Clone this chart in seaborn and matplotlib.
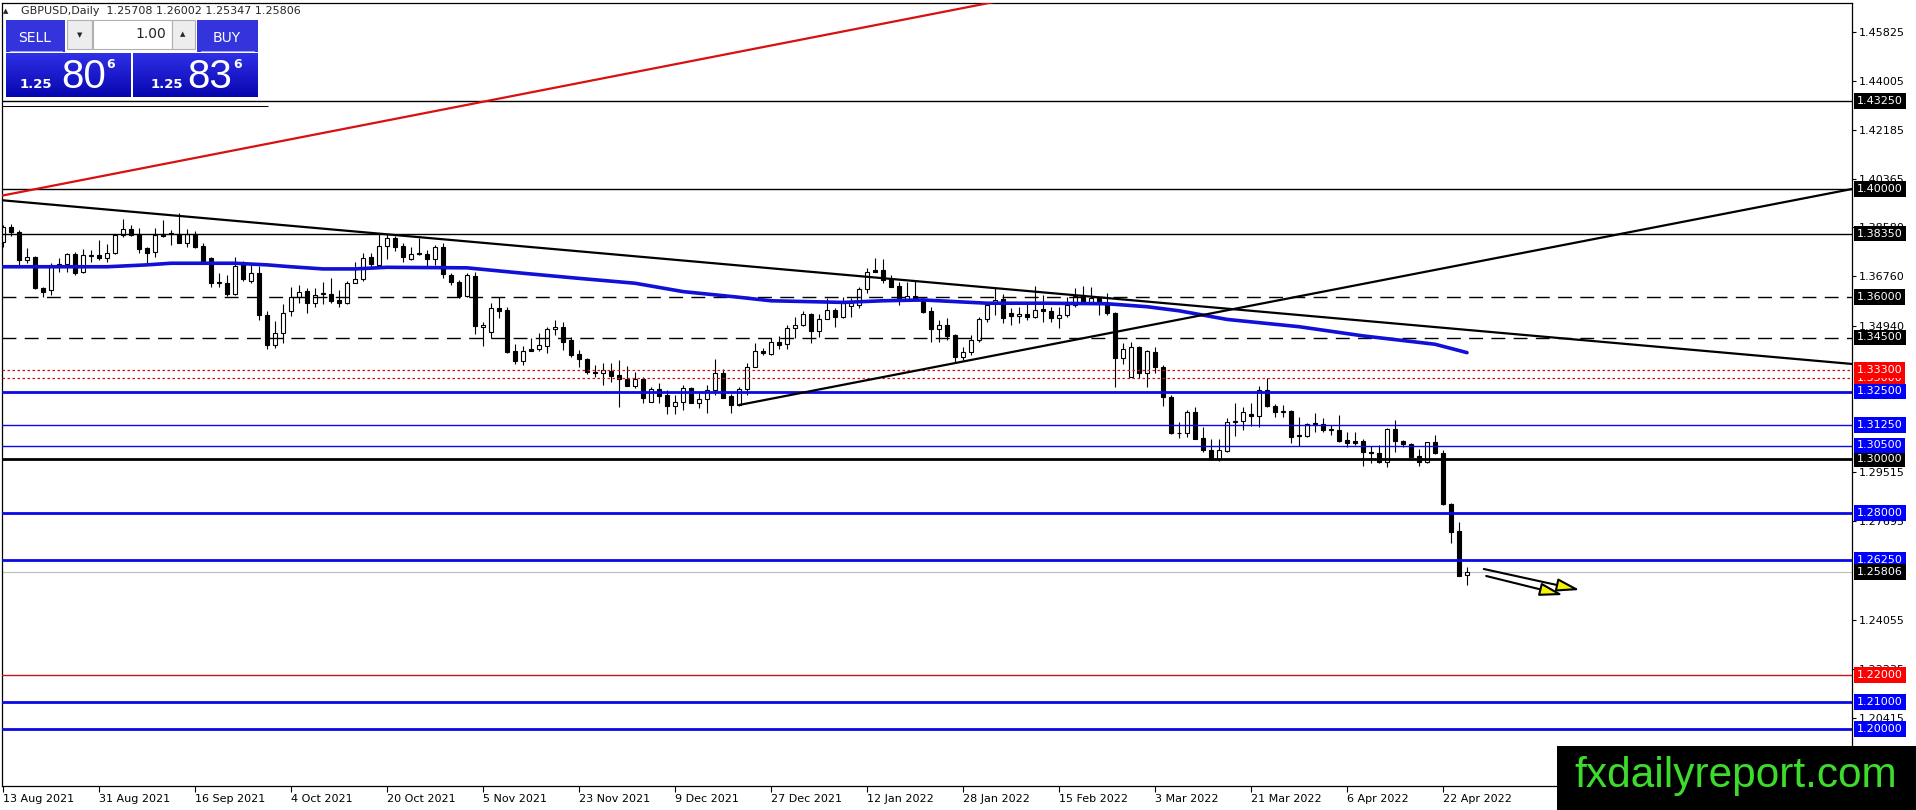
import matplotlib
matplotlib.use('Agg')
import matplotlib.pyplot as plt
from matplotlib.patches import Rectangle
from matplotlib.colors import LinearSegmentedColormap
import numpy as np
import seaborn as sns

# ---- data ----
opens = [1.3805, 1.3860, 1.3842, 1.3737, 1.3747, 1.3635, 1.3627, 1.3712, 1.3722, 1.3758,
         1.3691, 1.3752, 1.3755, 1.3746, 1.3762, 1.3828, 1.3852, 1.3835, 1.3783, 1.3766,
         1.3829, 1.3835, 1.3832, 1.3801, 1.3832, 1.3789, 1.3743, 1.3653, 1.3653, 1.3611,
         1.3721, 1.3660, 1.3690, 1.3533, 1.3422, 1.3468, 1.3549, 1.3599, 1.3622, 1.3577,
         1.3610, 1.3610, 1.3588, 1.3579, 1.3653, 1.3665, 1.3747, 1.3720, 1.3788, 1.3817,
         1.3789, 1.3740, 1.3760, 1.3759, 1.3740, 1.3784, 1.3681, 1.3657, 1.3604, 1.3677,
         1.3490, 1.3472, 1.3558, 1.3552, 1.3400, 1.3364, 1.3406, 1.3406, 1.3420, 1.3480,
         1.3488, 1.3441, 1.3388, 1.3369, 1.3323, 1.3317, 1.3327, 1.3311, 1.3295, 1.3272,
         1.3295, 1.3212, 1.3258, 1.3237, 1.3196, 1.3212, 1.3262, 1.3209, 1.3223, 1.3256,
         1.3317, 1.3233, 1.3199, 1.3258, 1.3342, 1.3401, 1.3388, 1.3435, 1.3425, 1.3484,
         1.3495, 1.3536, 1.3474, 1.3520, 1.3552, 1.3525, 1.3567, 1.3570, 1.3628, 1.3699,
         1.3700, 1.3667, 1.3641, 1.3591, 1.3604, 1.3591, 1.3549, 1.3480, 1.3496, 1.3459,
         1.3377, 1.3395, 1.3441, 1.3519, 1.3577, 1.3591, 1.3542, 1.3530, 1.3537, 1.3527,
         1.3555, 1.3549, 1.3521, 1.3533, 1.3570, 1.3607, 1.3583, 1.3595, 1.3579, 1.3540,
         1.3373, 1.3305, 1.3414, 1.3317, 1.3398, 1.3340, 1.3231, 1.3095, 1.3095, 1.3173,
         1.3077, 1.3033, 1.3000, 1.3031, 1.3138, 1.3141, 1.3165, 1.3159, 1.3256, 1.3196,
         1.3175, 1.3178, 1.3089, 1.3086, 1.3132, 1.3130, 1.3107, 1.3107, 1.3070, 1.3067,
         1.3067, 1.3027, 1.3021, 1.2990, 1.3110, 1.3067, 1.3054, 1.3011, 1.2990, 1.3062,
         1.3023, 1.2832, 1.2733, 1.25708]
highs = [1.3866, 1.3872, 1.3848, 1.3780, 1.3752, 1.3638, 1.3727, 1.3743, 1.3764, 1.3768,
         1.3776, 1.3774, 1.3811, 1.3795, 1.3832, 1.3888, 1.3867, 1.3854, 1.3787, 1.3857,
         1.3885, 1.3848, 1.3910, 1.3851, 1.3846, 1.3799, 1.3747, 1.3688, 1.3681, 1.3749,
         1.3735, 1.3725, 1.3715, 1.3549, 1.3512, 1.3574, 1.3636, 1.3644, 1.3632, 1.3632,
         1.3657, 1.3669, 1.3625, 1.3661, 1.3731, 1.3762, 1.3764, 1.3832, 1.3832, 1.3826,
         1.3799, 1.3786, 1.3817, 1.3775, 1.3793, 1.3799, 1.3690, 1.3663, 1.3690, 1.3693,
         1.3509, 1.3577, 1.3601, 1.3562, 1.3426, 1.3419, 1.3447, 1.3468, 1.3490, 1.3515,
         1.3509, 1.3451, 1.3404, 1.3373, 1.3348, 1.3357, 1.3357, 1.3367, 1.3344, 1.3323,
         1.3305, 1.3268, 1.3283, 1.3256, 1.3237, 1.3274, 1.3268, 1.3243, 1.3274, 1.3369,
         1.3332, 1.3241, 1.3265, 1.3357, 1.3431, 1.3410, 1.3447, 1.3456, 1.3496, 1.3525,
         1.3549, 1.3540, 1.3536, 1.3595, 1.3558, 1.3599, 1.3595, 1.3638, 1.3706, 1.3743,
         1.3740, 1.3681, 1.3657, 1.3657, 1.3660, 1.3595, 1.3564, 1.3515, 1.3521, 1.3463,
         1.3414, 1.3459, 1.3525, 1.3579, 1.3632, 1.3611, 1.3558, 1.3564, 1.3577, 1.3641,
         1.3607, 1.3564, 1.3564, 1.3601, 1.3632, 1.3641, 1.3636, 1.3601, 1.3616, 1.3546,
         1.3428, 1.3435, 1.3419, 1.3404, 1.3414, 1.3348, 1.3236, 1.3138, 1.3181, 1.3191,
         1.3120, 1.3073, 1.3073, 1.3153, 1.3206, 1.3194, 1.3206, 1.3270, 1.3299, 1.3204,
         1.3200, 1.3181, 1.3157, 1.3135, 1.3172, 1.3151, 1.3126, 1.3163, 1.3101, 1.3101,
         1.3073, 1.3048, 1.3052, 1.3114, 1.3144, 1.3070, 1.3060, 1.3036, 1.3064, 1.3089,
         1.3033, 1.2836, 1.2768, 1.26002]
lows = [1.3786, 1.3825, 1.3719, 1.3725, 1.3628, 1.3600, 1.3607, 1.3694, 1.3694, 1.3681,
        1.3690, 1.3731, 1.3738, 1.3731, 1.3759, 1.3823, 1.3826, 1.3762, 1.3725, 1.3750,
        1.3823, 1.3793, 1.3799, 1.3786, 1.3780, 1.3725, 1.3638, 1.3638, 1.3604, 1.3607,
        1.3660, 1.3653, 1.3514, 1.3406, 1.3410, 1.3428, 1.3530, 1.3579, 1.3540, 1.3564,
        1.3574, 1.3579, 1.3564, 1.3574, 1.3651, 1.3660, 1.3712, 1.3716, 1.3740, 1.3771,
        1.3731, 1.3737, 1.3755, 1.3716, 1.3719, 1.3669, 1.3643, 1.3596, 1.3601, 1.3464,
        1.3420, 1.3447, 1.3521, 1.3394, 1.3352, 1.3348, 1.3399, 1.3401, 1.3391, 1.3459,
        1.3404, 1.3379, 1.3342, 1.3315, 1.3302, 1.3274, 1.3286, 1.3191, 1.3270, 1.3262,
        1.3206, 1.3210, 1.3206, 1.3167, 1.3167, 1.3181, 1.3206, 1.3188, 1.3169, 1.3237,
        1.3225, 1.3169, 1.3196, 1.3237, 1.3340, 1.3385, 1.3385, 1.3406, 1.3406, 1.3447,
        1.3493, 1.3428, 1.3453, 1.3517, 1.3488, 1.3523, 1.3527, 1.3558, 1.3614, 1.3691,
        1.3651, 1.3636, 1.3570, 1.3589, 1.3589, 1.3542, 1.3435, 1.3435, 1.3441, 1.3360,
        1.3367, 1.3385, 1.3435, 1.3509, 1.3533, 1.3502, 1.3496, 1.3502, 1.3515, 1.3521,
        1.3509, 1.3509, 1.3484, 1.3527, 1.3564, 1.3577, 1.3577, 1.3533, 1.3533, 1.3268,
        1.3352, 1.3303, 1.3299, 1.3268, 1.3317, 1.3196, 1.3093, 1.3077, 1.3083, 1.3073,
        1.3027, 1.2996, 1.2994, 1.3027, 1.3085, 1.3107, 1.3122, 1.3120, 1.3194, 1.3157,
        1.3157, 1.3060, 1.3048, 1.3080, 1.3101, 1.3101, 1.3089, 1.3064, 1.3043, 1.3052,
        1.2974, 1.2984, 1.2984, 1.2969, 1.3027, 1.3046, 1.3002, 1.2974, 1.2986, 1.3019,
        1.2830, 1.2690, 1.2567, 1.25347]
closes = [1.3860, 1.3840, 1.3737, 1.3747, 1.3632, 1.3620, 1.3719, 1.3721, 1.3759, 1.3688,
          1.3754, 1.3753, 1.3746, 1.3762, 1.3828, 1.3852, 1.3830, 1.3778, 1.3764, 1.3829,
          1.3825, 1.3836, 1.3801, 1.3832, 1.3786, 1.3731, 1.3651, 1.3654, 1.3611, 1.3715,
          1.3665, 1.3690, 1.3533, 1.3422, 1.3468, 1.3540, 1.3599, 1.3620, 1.3577, 1.3607,
          1.3611, 1.3586, 1.3579, 1.3653, 1.3665, 1.3743, 1.3722, 1.3788, 1.3817, 1.3786,
          1.3747, 1.3759, 1.3761, 1.3740, 1.3786, 1.3685, 1.3657, 1.3604, 1.3681, 1.3493,
          1.3495, 1.3558, 1.3549, 1.3398, 1.3364, 1.3400, 1.3400, 1.3421, 1.3480, 1.3488,
          1.3435, 1.3385, 1.3369, 1.3323, 1.3317, 1.3330, 1.3309, 1.3295, 1.3272, 1.3295,
          1.3225, 1.3258, 1.3235, 1.3196, 1.3212, 1.3262, 1.3209, 1.3223, 1.3256, 1.3317,
          1.3227, 1.3199, 1.3258, 1.3342, 1.3401, 1.3391, 1.3435, 1.3422, 1.3484, 1.3495,
          1.3537, 1.3474, 1.3520, 1.3552, 1.3525, 1.3579, 1.3579, 1.3628, 1.3694, 1.3694,
          1.3663, 1.3638, 1.3589, 1.3604, 1.3591, 1.3546, 1.3480, 1.3496, 1.3456, 1.3377,
          1.3395, 1.3441, 1.3519, 1.3570, 1.3589, 1.3521, 1.3530, 1.3537, 1.3527, 1.3552,
          1.3549, 1.3521, 1.3533, 1.3570, 1.3604, 1.3583, 1.3595, 1.3577, 1.3540, 1.3373,
          1.3406, 1.3416, 1.3317, 1.3400, 1.3340, 1.3231, 1.3095, 1.3098, 1.3173, 1.3074,
          1.3033, 1.3000, 1.3033, 1.3138, 1.3141, 1.3173, 1.3159, 1.3256, 1.3196, 1.3175,
          1.3177, 1.3083, 1.3085, 1.3128, 1.3128, 1.3107, 1.3108, 1.3068, 1.3060, 1.3060,
          1.3027, 1.3021, 1.2990, 1.3110, 1.3068, 1.3054, 1.3009, 1.2990, 1.3062, 1.3021,
          1.2832, 1.2731, 1.2567, 1.25806]

# moving average, read at selected bars
ma_bars = [0, 13, 18, 21, 29, 33, 36, 40, 44, 48, 58, 65, 72, 79, 85, 92, 96, 105,
           110, 115, 119, 123, 130, 138, 143, 147, 153, 162, 170, 179, 183]
ma_values = [1.3712, 1.3712, 1.3719, 1.3725, 1.3725, 1.3719, 1.3712, 1.3704, 1.3704,
             1.3710, 1.3708, 1.3688, 1.3669, 1.3651, 1.3620, 1.3599, 1.3586, 1.3580,
             1.3586, 1.3589, 1.3583, 1.3577, 1.3577, 1.3575, 1.3564, 1.3549, 1.3517,
             1.3490, 1.3456, 1.3425, 1.3394]

date_labels = ['13 Aug 2021', '31 Aug 2021', '16 Sep 2021', '4 Oct 2021', '20 Oct 2021',
               '5 Nov 2021', '23 Nov 2021', '9 Dec 2021', '27 Dec 2021', '12 Jan 2022',
               '28 Jan 2022', '15 Feb 2022', '3 Mar 2022', '21 Mar 2022', '6 Apr 2022',
               '22 Apr 2022']
date_bars = [12 * i for i in range(len(date_labels))]

axis_ticks = [1.45825, 1.44005, 1.42185, 1.40365, 1.38580, 1.36760, 1.34940,
              1.29515, 1.27695, 1.24055, 1.22235, 1.20415]

levels = [1.4325, 1.4000, 1.3835, 1.3600, 1.3450, 1.3300, 1.3330, 1.3250, 1.3125,
          1.3000, 1.3050, 1.2800, 1.2625, 1.2200, 1.2100, 1.2000]
last_price = 1.25806

# trend lines (bar, price) end points
red_line = [(-0.375, 1.3974), (130.0, 1.4728)]
down_line = [(-0.375, 1.3959), (231.125, 1.3352)]
up_line = [(92.0, 1.3200), (231.125, 1.4000)]
arrows = [((185.1, 1.25926), (197.1, 1.25148)), ((185.4, 1.25667), (195.0, 1.24963))]

# ---- styles ----
BLUE = '#0a0ae6'
level_style = {
    1.4325: ('black', 1.0, '-'), 1.4000: ('black', 1.0, '-'), 1.3835: ('black', 1.0, '-'),
    1.3600: ('black', 1.0, (0, (10, 6))), 1.3450: ('black', 1.0, (0, (10, 6))),
    1.3330: ('#d01010', 0.9, (0, (2, 2))), 1.3300: ('#d01010', 0.9, (0, (2, 2))),
    1.3250: (BLUE, 2.0, '-'), 1.3125: (BLUE, 1.0, '-'), 1.3050: (BLUE, 1.0, '-'),
    1.3000: ('black', 2.0, '-'), 1.2800: (BLUE, 2.0, '-'), 1.2625: (BLUE, 2.0, '-'),
    1.2200: ('#d01010', 1.0, '-'), 1.2100: (BLUE, 2.0, '-'), 1.2000: (BLUE, 2.0, '-'),
}
box_colour = {'black': 'black', BLUE: '#0000ff', '#d01010': '#ff0000'}

sns.set_style('white')
plt.rcParams['font.family'] = ['DejaVu Sans']

W, H = 1916, 810
fig = plt.figure(figsize=(W / 100, H / 100), dpi=100)
fig.patch.set_facecolor('white')
left_px, right_px, top_px, bot_px = 2, 1852, 3, 786
ax = fig.add_axes([left_px / W, (H - bot_px) / H, (right_px - left_px) / W, (bot_px - top_px) / H])
ax.set_facecolor('white')

ax.set_xlim((left_px - 3) / 8, (right_px - 3) / 8)
ax.set_ylim(1.3 - (bot_px - 459) / 2700, 1.3 + (459 - top_px) / 2700)

bars = np.arange(len(opens))
o = np.array(opens); c = np.array(closes)
hi = np.array(highs); lo = np.array(lows)

# candles
ax.vlines(bars, lo, hi, color='black', linewidth=0.8, zorder=2)
up = c >= o
bottoms = np.minimum(o, c)
heights = np.maximum(np.abs(c - o), 0.0003)
ax.bar(bars[up], heights[up], bottom=bottoms[up], width=0.6, color='white',
       edgecolor='black', linewidth=0.8, zorder=2.2)
ax.bar(bars[~up], heights[~up], bottom=bottoms[~up], width=0.6, color='black',
       edgecolor='black', linewidth=0.8, zorder=2.2)

# horizontal levels
for lvl in levels:
    col, lw, ls = level_style[lvl]
    ax.axhline(lvl, color=col, linewidth=lw, linestyle=ls, zorder=3)
ax.axhline(last_price, color='#c0c0c0', linewidth=0.9, zorder=1.5)

# moving average
sns.lineplot(x=ma_bars, y=ma_values, ax=ax, color='#1010d8', linewidth=2.6, zorder=3.5)

# trend lines
for pts, col in [(red_line, '#d81010'), (down_line, 'black'), (up_line, 'black')]:
    ax.plot([pts[0][0], pts[1][0]], [pts[0][1], pts[1][1]], color=col, linewidth=1.6, zorder=3.6)

# yellow arrows
for (x0, y0), (x1, y1) in arrows:
    ax.annotate('', xy=(x1, y1), xytext=(x0, y0), zorder=4,
                arrowprops=dict(arrowstyle='-|>,head_length=1.4,head_width=0.4',
                                fc='#f4f400', ec='black', lw=1.5, shrinkA=0, shrinkB=0))

# axes frame & ticks
for s in ax.spines.values():
    s.set_color('black')
    s.set_linewidth(0.9)
ax.yaxis.tick_right()
ax.set_yticks(axis_ticks, labels=[f'{v:.5f}' for v in axis_ticks])
ax.tick_params(axis='y', direction='out', length=3, width=0.8, pad=2, labelsize=8,
               colors='black', right=True, left=False)
ax.set_xticks(date_bars, labels=date_labels, ha='left')
ax.tick_params(axis='x', direction='out', length=4, width=0.8, pad=2, labelsize=8,
               colors='black', bottom=True)
ax.set_xlabel('')
ax.set_ylabel('')
ax.grid(False)

# price boxes on the right scale
trans = ax.get_yaxis_transform()
xoff = 1.0 + 5 / (right_px - left_px)
for lvl in levels:
    col = level_style[lvl][0]
    ax.text(xoff, lvl, f'{lvl:.5f}', transform=trans, fontsize=8,
            color='white', va='center', ha='left', clip_on=False, zorder=5,
            bbox=dict(boxstyle='square,pad=0.25', fc=box_colour[col], ec='none'))
ax.text(xoff, last_price, f'{last_price:.5f}', transform=trans,
        fontsize=8, color='white', va='center', ha='left', clip_on=False, zorder=5,
        bbox=dict(boxstyle='square,pad=0.25', fc='black', ec='none'))

# ---- overlay in pixel units: header, trade panel, watermark ----
ov = fig.add_axes([0, 0, 1, 1], zorder=10)
ov.set_xlim(0, W)
ov.set_ylim(H, 0)
ov.axis('off')

ov.text(3, 11, '\u25b2', fontsize=5, va='center', ha='left')
ov.text(21, 11, 'GBPUSD,Daily  1.25708 1.26002 1.25347 1.25806', fontsize=8, va='center', ha='left')

panel_blue = '#3434dc'
grad = LinearSegmentedColormap.from_list('pan', ['#2f2fe6', '#0707b0'])
gy = np.linspace(0, 1, 40).reshape(-1, 1)

ov.add_patch(Rectangle((6, 20), 59, 32, fc=panel_blue, ec='none'))
ov.plot([10, 62], [51, 51], color='#a0a0f5', lw=0.8)
ov.text(35, 38, 'SELL', color='white', fontsize=10, ha='center', va='center')
ov.add_patch(Rectangle((67, 20), 25, 29, fc='#ededed', ec='#b0b0b0', lw=0.8))
ov.text(80, 35, '\u25bc', fontsize=5, ha='center', va='center')
ov.add_patch(Rectangle((93, 20), 79, 29, fc='white', ec='#b0b0b0', lw=0.8))
ov.text(166, 34, '1.00', fontsize=10, ha='right', va='center')
ov.add_patch(Rectangle((172, 20), 23, 29, fc='#ededed', ec='#b0b0b0', lw=0.8))
ov.text(183, 34, '\u25b2', fontsize=5, ha='center', va='center')
ov.add_patch(Rectangle((197, 20), 61, 32, fc=panel_blue, ec='none'))
ov.plot([201, 254], [51, 51], color='#a0a0f5', lw=0.8)
ov.text(227, 38, 'BUY', color='white', fontsize=10, ha='center', va='center')

for x0, w, big, xs in [(6, 125, '80', (20, 61, 106)), (133, 125, '83', (151, 187, 233))]:
    ov.imshow(gy, cmap=grad, extent=(x0, x0 + w, 97, 53), aspect='auto', zorder=1)
    ov.text(xs[0], 88, '1.25', color='white', fontsize=9.5, fontweight='bold', ha='left',
            va='baseline', zorder=2)
    ov.text(xs[1], 88, big, color='white', fontsize=29, ha='left', va='baseline',
            family=['Liberation Sans', 'DejaVu Sans'], zorder=2)
    ov.text(xs[2], 68, '6', color='white', fontsize=9, fontweight='bold', ha='left',
            va='baseline', zorder=2)
ov.plot([2, 268], [105.5, 105.5], color='black', lw=0.75, solid_capstyle='butt')
ov.set_xlim(0, W)
ov.set_ylim(H, 0)

ov.add_patch(Rectangle((1557, 746), W - 1557, H - 746, fc='black', ec='none', zorder=3))
ov.text(1736, 787, 'fxdailyreport.com', color='#3cdc2c', fontsize=30.5, ha='center',
        va='baseline', family=['Liberation Sans', 'DejaVu Sans'], zorder=4)

fig.savefig('out.png', dpi=100, facecolor='white')
